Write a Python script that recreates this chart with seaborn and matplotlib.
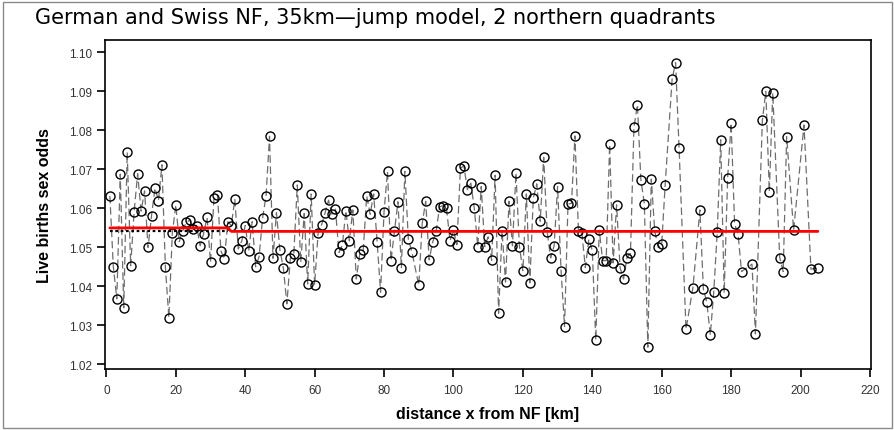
import matplotlib
matplotlib.use("Agg")
import matplotlib.pyplot as plt
import seaborn as sns
import pandas as pd
from matplotlib.patches import Rectangle

# ── Data ────────────────────────────────────────────────────────────────────
distance_km = [
    1, 2, 3, 4, 5, 6, 7, 8, 9, 10, 11, 12, 13, 14, 15, 16, 17, 18, 19, 20,
    21, 22, 23, 24, 25, 26, 27, 28, 29, 30, 31, 32, 33, 34, 35, 36, 37, 38, 39, 40,
    41, 42, 43, 44, 45, 46, 47, 48, 49, 50, 51, 52, 53, 54, 55, 56, 57, 58, 59, 60,
    61, 62, 63, 64, 65, 66, 67, 68, 69, 70, 71, 72, 73, 74, 75, 76, 77, 78, 79, 80,
    81, 82, 83, 84, 85, 86, 87, 88, 90, 91, 92, 93, 94, 95, 96, 97, 98, 99, 100,
    101, 102, 103, 104, 105, 106, 107, 108, 109, 110, 111, 112, 113, 114, 115, 116,
    117, 118, 119, 120, 121, 122, 123, 124, 125, 126, 127, 128, 129, 130, 131, 132,
    133, 134, 135, 136, 137, 138, 139, 140, 141, 142, 143, 144, 145, 146, 147, 148,
    149, 150, 151, 152, 153, 154, 155, 156, 157, 158, 159, 160, 161, 163, 164, 165,
    167, 169, 171, 172, 173, 174, 175, 176, 177, 178, 179, 180, 181, 182, 183, 186,
    187, 189, 190, 191, 192, 194, 195, 196, 198, 201, 203, 205,
]
sex_odds = [
    1.0632, 1.0450, 1.0368, 1.0688, 1.0345, 1.0744, 1.0453, 1.0592, 1.0689, 1.0593,
    1.0645, 1.0500, 1.0581, 1.0652, 1.0620, 1.0712, 1.0449, 1.0320, 1.0536, 1.0609,
    1.0515, 1.0543, 1.0564, 1.0570, 1.0547, 1.0556, 1.0504, 1.0535, 1.0577, 1.0462,
    1.0627, 1.0634, 1.0491, 1.0470, 1.0566, 1.0556, 1.0624, 1.0496, 1.0516, 1.0556,
    1.0490, 1.0566, 1.0450, 1.0476, 1.0575, 1.0632, 1.0785, 1.0472, 1.0589, 1.0493,
    1.0446, 1.0355, 1.0472, 1.0483, 1.0660, 1.0462, 1.0587, 1.0406, 1.0637, 1.0404,
    1.0537, 1.0558, 1.0588, 1.0621, 1.0585, 1.0598, 1.0487, 1.0506, 1.0594, 1.0517,
    1.0596, 1.0419, 1.0483, 1.0493, 1.0632, 1.0585, 1.0637, 1.0515, 1.0385, 1.0592,
    1.0695, 1.0466, 1.0541, 1.0617, 1.0448, 1.0695, 1.0521, 1.0489, 1.0403, 1.0562,
    1.0618, 1.0468, 1.0513, 1.0541, 1.0604, 1.0607, 1.0600, 1.0517, 1.0544,
    1.0507, 1.0703, 1.0709, 1.0648, 1.0665, 1.0600, 1.0502, 1.0656, 1.0502, 1.0527,
    1.0467, 1.0685, 1.0331, 1.0542, 1.0411, 1.0618,
    1.0504, 1.0691, 1.0502, 1.0440, 1.0637, 1.0409, 1.0626, 1.0663, 1.0567, 1.0731,
    1.0540, 1.0473, 1.0504, 1.0656, 1.0440, 1.0297,
    1.0611, 1.0613, 1.0786, 1.0543, 1.0536, 1.0448, 1.0521, 1.0492, 1.0262, 1.0544,
    1.0466, 1.0466, 1.0764, 1.0460, 1.0609, 1.0448,
    1.0419, 1.0474, 1.0485, 1.0808, 1.0866, 1.0673, 1.0612, 1.0244, 1.0675, 1.0541,
    1.0500, 1.0509, 1.0661, 1.0932, 1.0974, 1.0755,
    1.0290, 1.0397, 1.0596, 1.0393, 1.0359, 1.0275, 1.0386, 1.0540, 1.0776, 1.0383,
    1.0679, 1.0819, 1.0560, 1.0534, 1.0438, 1.0457,
    1.0278, 1.0826, 1.0900, 1.0643, 1.0896, 1.0474, 1.0438, 1.0784, 1.0544, 1.0814,
    1.0444, 1.0448,
]

# jump model fit (red) and the no-jump level over the first 35 km (dotted)
fit_x = [1, 35, 36, 205]
fit_y = [1.0550, 1.0550, 1.0541, 1.0541]
base_x = [1, 35]
base_y = [1.0541, 1.0541]

x_ticks = [0, 20, 40, 60, 80, 100, 120, 140, 160, 180, 200, 220]
y_ticks = [1.02, 1.03, 1.04, 1.05, 1.06, 1.07, 1.08, 1.09, 1.10]

df = pd.DataFrame({"distance": distance_km, "odds": sex_odds})

# ── Style ───────────────────────────────────────────────────────────────────
sns.set_style("ticks")
plt.rcParams["font.family"] = ["Liberation Sans", "DejaVu Sans"]

fig = plt.figure(figsize=(8.95, 4.31), dpi=100)
ax = fig.add_axes([105 / 895, 1 - 370 / 431, 766 / 895, 329 / 431])

sns.lineplot(data=df, x="distance", y="odds", ax=ax, color="#6e6e6e",
             linewidth=0.9, linestyle=(0, (6, 3)), marker="o", markersize=6.5,
             markerfacecolor="none", markeredgecolor="black",
             markeredgewidth=1.0, estimator=None, sort=True)
ax.plot(base_x, base_y, color="black", linestyle=(0, (1.2, 1.2)), linewidth=1.6)
ax.plot(fit_x, fit_y, color="#ff0000", linewidth=2.0)

ax.set_xlim(-0.4, 220.3)
ax.set_ylim(1.0188, 1.1032)
ax.set_xticks(x_ticks)
ax.set_yticks(y_ticks)
ax.set_xticklabels([str(t) for t in x_ticks])
ax.set_yticklabels([f"{t:.2f}" for t in y_ticks])
ax.tick_params(axis="both", direction="out", length=6, width=1.2,
               labelsize=8.5, colors="black", labelcolor="#333333")
ax.tick_params(axis="x", pad=5)
for s in ax.spines.values():
    s.set_linewidth(1.2)
    s.set_color("black")

ax.set_xlabel("distance x from NF [km]", fontsize=11.5, fontweight="bold",
              labelpad=7, color="black")
ax.set_ylabel("Live births sex odds", fontsize=11.5, fontweight="bold",
              labelpad=12, color="black")

fig.text(35 / 895, 1 - 18 / 431,
         "German and Swiss NF, 35km\u2014jump model, 2 northern quadrants",
         fontsize=15, va="center", ha="left", color="black",
         family=["DejaVu Sans"])

# thin frame around the whole picture
fig.patches.append(Rectangle((0.003, 0.004), 0.994, 0.99, transform=fig.transFigure,
                             fill=False, edgecolor="#8a8a8a", linewidth=1.0))

fig.savefig("out.png", dpi=100)
plt.close()
